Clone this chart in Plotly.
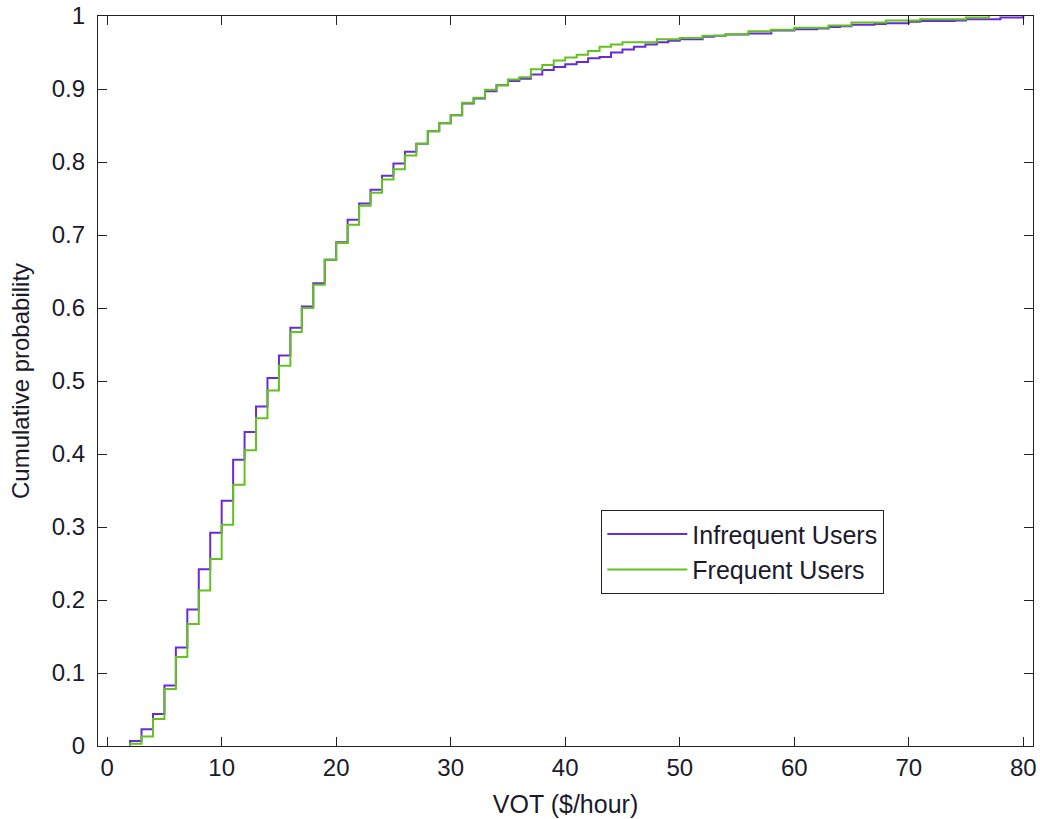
import plotly.graph_objects as go

# VOT ($/hour) breakpoints and cumulative probabilities
vot_infrequent = [2, 3, 4, 5, 6, 7, 8, 9, 10, 11, 12, 13, 14, 15, 16, 17, 18, 19, 20,
                  21, 22, 23, 24, 25, 26, 27, 28, 29, 30, 31, 32, 33, 34, 35, 36, 37,
                  38, 39, 40, 41, 42, 43, 44, 45, 46, 47, 48, 49, 50, 52, 53, 54, 56,
                  58, 60, 62, 63, 64, 65, 67, 68, 70, 71, 74, 75, 78, 80]
cdf_infrequent = [0.007, 0.023, 0.044, 0.083, 0.135, 0.187, 0.242, 0.292, 0.336, 0.392,
                  0.430, 0.465, 0.504, 0.535, 0.573, 0.602, 0.634, 0.666, 0.690, 0.721,
                  0.743, 0.762, 0.781, 0.798, 0.814, 0.825, 0.842, 0.853, 0.864, 0.880,
                  0.887, 0.897, 0.905, 0.911, 0.914, 0.920, 0.926, 0.930, 0.934, 0.937,
                  0.942, 0.944, 0.950, 0.954, 0.958, 0.961, 0.964, 0.966, 0.968, 0.9715,
                  0.973, 0.9745, 0.976, 0.980, 0.982, 0.983, 0.985, 0.986, 0.988, 0.989,
                  0.990, 0.992, 0.993, 0.994, 0.9955, 0.998, 1.0]

vot_frequent = [2, 3, 4, 5, 6, 7, 8, 9, 10, 11, 12, 13, 14, 15, 16, 17, 18, 19, 20,
                21, 22, 23, 24, 25, 26, 27, 28, 29, 30, 31, 32, 33, 34, 35, 36, 37,
                38, 39, 40, 41, 42, 43, 44, 45, 48, 50, 52, 54, 56, 58, 60, 63, 65,
                68, 71, 75, 77]
cdf_frequent = [0.003, 0.013, 0.037, 0.078, 0.122, 0.167, 0.213, 0.256, 0.303, 0.358,
                0.405, 0.449, 0.487, 0.521, 0.567, 0.600, 0.632, 0.666, 0.689, 0.714,
                0.740, 0.758, 0.776, 0.790, 0.809, 0.825, 0.842, 0.853, 0.864, 0.881,
                0.888, 0.899, 0.905, 0.913, 0.916, 0.927, 0.933, 0.939, 0.943, 0.947,
                0.952, 0.958, 0.961, 0.964, 0.968, 0.970, 0.973, 0.975, 0.979, 0.981,
                0.984, 0.987, 0.991, 0.994, 0.9955, 0.998, 1.0]

x_ticks = [0, 10, 20, 30, 40, 50, 60, 70, 80]
y_ticks = [0, 0.1, 0.2, 0.3, 0.4, 0.5, 0.6, 0.7, 0.8, 0.9, 1]
y_tick_labels = ["0", "0.1", "0.2", "0.3", "0.4", "0.5", "0.6", "0.7", "0.8", "0.9", "1"]

PURPLE = "#6a2bd6"
GREEN = "#62c21f"


def stair(vot, cdf):
    # start the staircase on the zero baseline at the first observed value
    return [vot[0]] + list(vot), [0.0] + list(cdf)


xi, yi = stair(vot_infrequent, cdf_infrequent)
xf, yf = stair(vot_frequent, cdf_frequent)

fig = go.Figure()
fig.add_trace(go.Scatter(x=xi, y=yi, mode="lines", line=dict(color=PURPLE, width=2, shape="hv"),
                         name="Infrequent Users"))
fig.add_trace(go.Scatter(x=xf, y=yf, mode="lines", line=dict(color=GREEN, width=2, shape="hv"),
                         name="Frequent Users"))

font_family = "Liberation Sans, Arial, sans-serif"
TEXT = "#1a1a2a"
FS = 25
axis_common = dict(showline=True, linecolor="#222222", linewidth=1.3, mirror="ticks",
                   ticks="inside", ticklen=9, tickwidth=1.3, tickcolor="#222222",
                   showgrid=False, zeroline=False, automargin=False,
                   ticklabeloverflow="allow",
                   tickfont=dict(family=font_family, size=FS - 1, color=TEXT))

fig.update_layout(
    width=1040, height=819,
    paper_bgcolor="white", plot_bgcolor="white",
    margin=dict(l=98, r=7, t=16, b=73),
    font=dict(family=font_family, size=FS, color=TEXT),
    xaxis=dict(range=[-0.8, 80.85], tickvals=x_ticks,
               title=dict(text="VOT ($/hour)", font=dict(size=FS)),
               **axis_common),
    yaxis=dict(range=[0, 1], tickvals=y_ticks, ticktext=y_tick_labels,
               ticklabelstandoff=7,
               title=dict(text="Cumulative probability", font=dict(size=FS - 1)),
               **axis_common),
    legend=dict(x=0.538, y=0.3233, xanchor="left", yanchor="top",
                bordercolor="#222222", borderwidth=1.3, bgcolor="white",
                font=dict(size=FS), itemwidth=80),
    showlegend=True,
)

# remove the default page margin so the figure fills the window exactly
fig.write_html("out.html", config={"displayModeBar": False},
               post_script="document.body.style.margin='0px';")
